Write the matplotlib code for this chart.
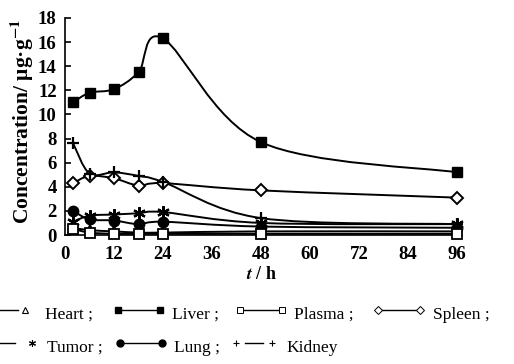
import matplotlib
matplotlib.use("Agg")
import matplotlib.pyplot as plt
from matplotlib.path import Path
from matplotlib.patches import PathPatch

plt.rcParams['font.family'] = ['Liberation Serif', 'DejaVu Serif']
plt.rcParams['mathtext.fontset'] = 'stix'

# sampling times (h)
t = [2, 6, 12, 18, 24, 48, 96]

# concentrations (ug/g)
liver = [11.0, 11.8, 12.1, 13.5, 16.3, 7.7, 5.2]
spleen = [4.3, 4.9, 4.7, 4.1, 4.3, 3.7, 3.1]
kidney = [7.6, 5.1, 5.2, 4.9, 4.4, 1.4, 0.9]
tumor = [1.1, 1.6, 1.7, 1.8, 1.9, 1.0, 0.9]
lung = [2.0, 1.3, 1.2, 0.9, 1.1, 0.7, 0.6]
heart = [0.6, 0.4, 0.3, 0.2, 0.2, 0.3, 0.3]
plasma = [0.5, 0.2, 0.1, 0.1, 0.1, 0.1, 0.1]

xticks = [0, 12, 24, 36, 48, 60, 72, 84, 96]
yticks = [0, 2, 4, 6, 8, 10, 12, 14, 16, 18]


def smooth_path(x, y):
    """Excel-like smoothed line (Catmull-Rom as cubic Bezier)."""
    n = len(x)
    verts = [(x[0], y[0])]
    codes = [Path.MOVETO]
    for i in range(n - 1):
        a = i - 1 if i > 0 else i
        d = i + 2 if i + 2 < n else i + 1
        c1 = (x[i] + (x[i + 1] - x[a]) / 6.0, y[i] + (y[i + 1] - y[a]) / 6.0)
        c2 = (x[i + 1] - (x[d] - x[i]) / 6.0, y[i + 1] - (y[d] - y[i]) / 6.0)
        verts += [c1, c2, (x[i + 1], y[i + 1])]
        codes += [Path.CURVE4] * 3
    return Path(verts, codes)


fig = plt.figure(figsize=(5.14, 3.64), dpi=100, facecolor='w')
ax = fig.add_axes([65 / 514, 1 - 235 / 364, 392 / 514, 217 / 364])

series = [
    (liver, dict(marker='s', ms=7.5, mfc='k', mec='k')),
    (spleen, dict(marker='D', ms=6, mfc='w', mec='k', mew=1.4)),
    (kidney, dict(marker='+', ms=9, mec='k', mew=1.6)),
    (tumor, dict(marker=(6, 2, 0), ms=9, mec='k', mew=1.6)),
    (lung, dict(marker='o', ms=7.5, mfc='k', mec='k')),
    (heart, dict(marker='^', ms=6.5, mfc='w', mec='k', mew=1.3)),
    (plasma, dict(marker='s', ms=6.5, mfc='w', mec='k', mew=1.3)),
]
for vals, style in series:
    ax.add_patch(PathPatch(smooth_path(t, vals), fc='none', ec='k', lw=1.4,
                           clip_on=False, zorder=2))
    ax.plot(t, vals, ls='none', clip_on=False, zorder=3, **style)

ax.set_xlim(0, 96)
ax.set_ylim(0, 18)
ax.set_xticks(xticks)
ax.set_yticks(yticks)
for s in ('top', 'right'):
    ax.spines[s].set_visible(False)
ax.spines['left'].set_linewidth(1.2)
ax.spines['bottom'].set_linewidth(1.2)
ax.tick_params(axis='y', direction='in', length=4, width=1.2, pad=6,
               labelsize=13.5)
ax.tick_params(axis='x', direction='in', length=0, pad=8, labelsize=13.5)
for lab in ax.get_xticklabels() + ax.get_yticklabels():
    lab.set_fontweight('bold')

ax.set_xlabel(r'$\mathbfit{t}$ / h', fontsize=13, fontweight='bold', labelpad=2)
fig.text(22 / 514, 1 - 122 / 364, r'Concentration/ μg·g$^{\mathbf{-1}}$',
         rotation=90, ha='center', va='center', fontsize=15.5, fontweight='bold')

# legend drawn in pixel coordinates over the whole figure
lg = fig.add_axes([0, 0, 1, 1])
lg.set_xlim(0, 514)
lg.set_ylim(364, 0)
lg.set_axis_off()
lg.patch.set_alpha(0)

fs = 12.5
items_row1 = [
    ((-20, 18), None, 25, dict(marker='^', ms=4, mfc='w', mec='k', mew=0.8), 'Heart ;', 45),
    ((118, 160), 118, 160, dict(marker='s', ms=4.5, mfc='k', mec='k'), 'Liver ;', 172),
    ((240, 282), 240, 282, dict(marker='s', ms=4.5, mfc='w', mec='k', mew=0.7), 'Plasma ;', 294),
    ((378, 420), 378, 420, dict(marker='D', ms=3.8, mfc='w', mec='k', mew=0.7), 'Spleen ;', 433),
]
items_row2 = [
    ((-20, 15), None, 32, dict(marker=(6, 2, 0), ms=5, mec='k', mew=0.8), 'Tumor ;', 47),
    ((120, 162), 120, 162, dict(marker='o', ms=5, mfc='k', mec='k'), 'Lung ;', 174),
    ((245, 263), 236, 272, dict(marker='+', ms=5, mec='k', mew=0.8), 'Kidney', 286),
]
for row, ytxt in ((items_row1, 315), (items_row2, 348)):
    ymk = ytxt - 5
    for (l0, l1), m0, m1, mst, txt, xt in row:
        lg.plot([l0, l1], [ymk, ymk], color='k', lw=1.0)
        for mx in (m0, m1):
            if mx is not None:
                lg.plot([mx], [ymk], ls='none', **mst)
        lg.text(xt, ytxt, txt, fontsize=fs, ha='left', va='center')

fig.savefig('out.png', dpi=100)
